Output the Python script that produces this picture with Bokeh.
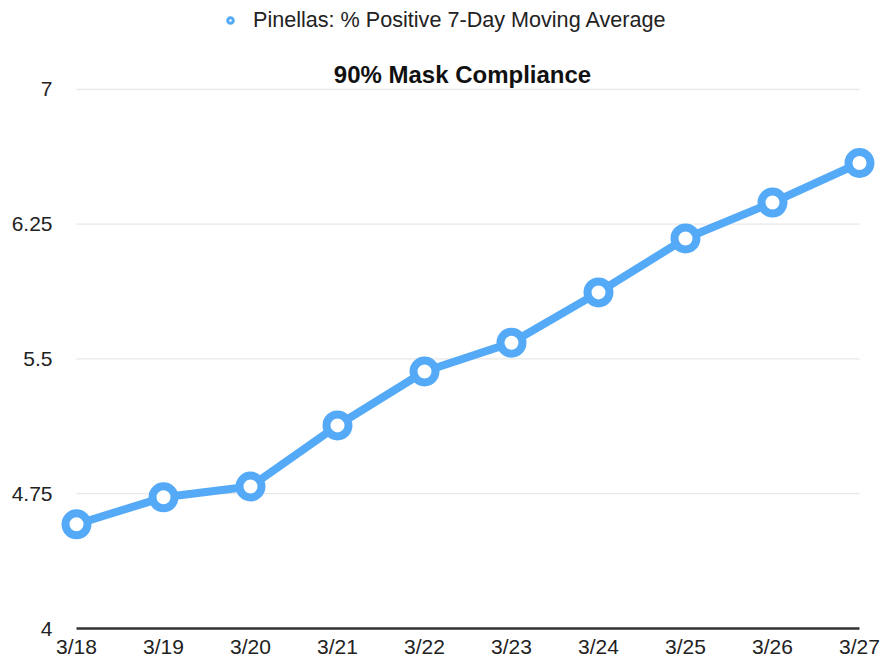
from bokeh.plotting import figure
from bokeh.models import Legend, LegendItem, FixedTicker, Range1d, Label
from bokeh.embed import file_html
from bokeh.resources import INLINE

dates = ["3/18", "3/19", "3/20", "3/21", "3/22", "3/23", "3/24", "3/25", "3/26", "3/27"]
pct_positive = [4.58, 4.73, 4.79, 5.13, 5.43, 5.59, 5.87, 6.17, 6.37, 6.59]
y_ticks = [4, 4.75, 5.5, 6.25, 7]
series_name = "Pinellas: % Positive 7-Day Moving Average"
chart_title = "90% Mask Compliance"

FONT = "Liberation Sans"
BLUE = "#54aaf7"

xs = list(range(len(dates)))
n_last = len(dates) - 1

# frame is padded a little so the end markers are not clipped;
# headroom above 7 holds legend and title
p = figure(width=882, height=660, output_backend="svg", toolbar_location=None,
           x_range=Range1d(-0.253, n_last + 0.253), y_range=Range1d(3.989, 7.494),
           min_border_left=54, min_border_right=1, min_border_bottom=29, min_border_top=0,
           title=None)

# gridlines and baseline spanning only the data extent
p.segment(x0=[0] * len(y_ticks[1:]), x1=[n_last] * len(y_ticks[1:]),
          y0=y_ticks[1:], y1=y_ticks[1:], line_color="#e2e2e2", line_width=1)
p.segment(x0=[0], x1=[n_last], y0=[y_ticks[0]], y1=[y_ticks[0]],
          line_color="#333333", line_width=2.5)

p.line(xs, pct_positive, line_color=BLUE, line_width=8)
p.scatter(xs, pct_positive, size=22, marker="circle", line_color=BLUE,
          line_width=8, fill_color="white")
leg_marker = p.scatter([xs[0]], [pct_positive[0]], size=9, marker="circle",
                       line_color=BLUE, line_width=3, fill_color="white", visible=False)

legend = Legend(items=[LegendItem(label=series_name, renderers=[leg_marker])],
                orientation="horizontal", location=(169, 597),
                label_text_font=FONT, label_text_font_size="21.6px", label_text_color="#222222",
                border_line_color=None, background_fill_alpha=0,
                glyph_width=14, glyph_height=14, label_standoff=16, margin=0, padding=2,
                label_height=20)
p.add_layout(legend, "center")

title = Label(text=chart_title, x=408, y=556, x_units="screen", y_units="screen",
              text_align="center", text_baseline="middle", text_font=FONT,
              text_font_size="24px", text_font_style="bold", text_color="#111111")
p.add_layout(title)

p.xaxis.ticker = FixedTicker(ticks=xs)
p.xaxis.major_label_overrides = {i: d for i, d in enumerate(dates)}
p.yaxis.ticker = FixedTicker(ticks=y_ticks)
p.yaxis.major_label_overrides = {t: ("%g" % t) for t in y_ticks}

for ax in (p.xaxis, p.yaxis):
    ax.axis_line_color = None
    ax.major_tick_line_color = None
    ax.minor_tick_line_color = None
    ax.major_tick_out = 0
    ax.major_tick_in = 0
    ax.major_label_text_font = FONT
    ax.major_label_text_font_size = "21px"
    ax.major_label_text_color = "#222222"
p.xaxis.major_label_standoff = 4
p.yaxis.major_label_standoff = 2

p.xgrid.grid_line_color = None
p.ygrid.grid_line_color = None
p.outline_line_color = None
p.background_fill_color = "white"
p.border_fill_color = "white"

open("out.html", "w").write(file_html(p, INLINE))
